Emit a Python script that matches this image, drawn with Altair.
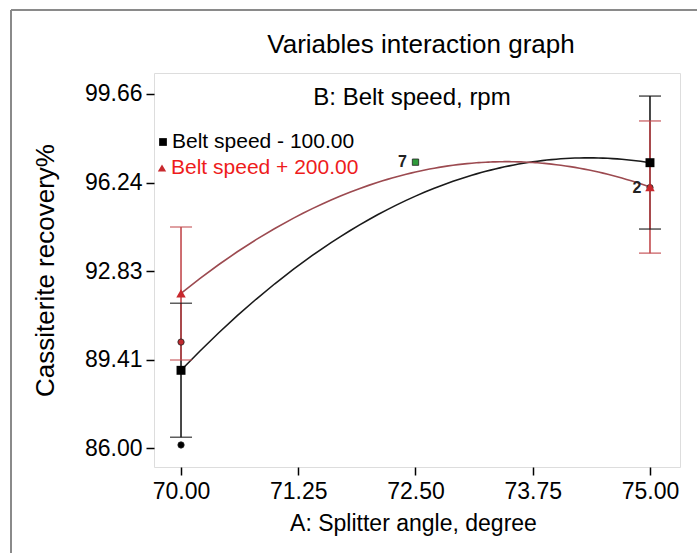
import altair as alt
import pandas as pd

# ---- data ----
series_names = ["Belt speed - 100.00", "Belt speed + 200.00"]
point_angle = [70.0, 75.0]
low_mean = [89.00, 97.01]
low_lo = [86.42, 94.45]
low_hi = [91.59, 99.58]
high_mean = [91.97, 96.07]
high_lo = [89.40, 93.52]
high_hi = [94.53, 98.62]

curve_angle = [70.0, 72.5, 75.0]
low_curve = [89.00, 95.72, 97.01]
high_curve = [91.97, 96.65, 96.07]

design_angle = [70.0, 70.0, 72.5, 75.0]
design_value = [86.12, 90.09, 97.03, 96.05]
design_kind = ["low", "high", "center", "high"]
design_label = ["", "", "7", "2"]

x_ticks = [70.0, 71.25, 72.5, 73.75, 75.0]
y_ticks = [86.00, 89.41, 92.83, 96.24, 99.66]

chart_title = "Variables interaction graph"
heading_text = "B: Belt speed, rpm"

FONT = "Liberation Sans"
BLACK = "#1a1a1a"
RED_CURVE = "#9c4a50"
RED_BAR = "#c24a4e"
RED_MARK = "#c8282d"
RED_TEXT = "#ee1c1c"

points = pd.DataFrame({
    "angle": point_angle * 2,
    "mean": low_mean + high_mean,
    "lo": low_lo + high_lo,
    "hi": low_hi + high_hi,
    "series": [series_names[0]] * 2 + [series_names[1]] * 2,
})
curves = pd.DataFrame({
    "angle": curve_angle * 2,
    "value": low_curve + high_curve,
    "series": [series_names[0]] * 3 + [series_names[1]] * 3,
})
design = pd.DataFrame({"angle": design_angle, "value": design_value,
                       "kind": design_kind, "label": design_label})

xs = alt.Scale(domain=[69.712, 75.32], nice=False, zero=False)
ys = alt.Scale(domain=[85.27, 100.47], nice=False, zero=False)

X = alt.X("angle:Q", scale=xs, title="A: Splitter angle, degree",
          axis=alt.Axis(values=x_ticks, format=".2f", grid=False, domain=False,
                        tickColor="black", tickSize=8, tickWidth=1.5,
                        labelFont=FONT, labelFontSize=23, labelColor="black",
                        labelPadding=5,
                        titleFont=FONT, titleFontSize=23, titleFontWeight="normal",
                        titleColor="black", titleX=259, titleY=63,
                        titleBaseline="alphabetic"))
Y_AX = alt.Axis(values=y_ticks, format=".2f", grid=False, domain=False,
                tickColor="black", tickSize=8, tickWidth=1.5,
                labelFont=FONT, labelFontSize=23, labelColor="black", labelPadding=4,
                titleFont=FONT, titleFontSize=26, titleFontWeight="normal",
                titleColor="black", titleAngle=-90, titleX=-101,
                titleBaseline="alphabetic")

series_color = alt.Color("series:N", scale=alt.Scale(domain=series_names,
                         range=[BLACK, RED_CURVE]), legend=None)

curve_layer = alt.Chart(curves).transform_regression(
    "angle", "value", method="poly", order=2, groupby=["series"], extent=[70, 75]
).mark_line(strokeWidth=1.6).encode(
    x=X, y=alt.Y("value:Q", scale=ys, title="Cassiterite recovery%", axis=Y_AX),
    color=series_color,
)

base_pts = alt.Chart(points)
black_pts = base_pts.transform_filter(alt.datum.series == series_names[0])
red_pts = base_pts.transform_filter(alt.datum.series == series_names[1])

def bars(src, color):
    rule = src.mark_rule(strokeWidth=1.6, color=color).encode(
        x="angle:Q", y=alt.Y("lo:Q", scale=ys), y2="hi:Q")
    cap_lo = src.mark_tick(orient="horizontal", size=22, thickness=1.6, color=color).encode(
        x="angle:Q", y=alt.Y("lo:Q", scale=ys))
    cap_hi = src.mark_tick(orient="horizontal", size=22, thickness=1.6, color=color).encode(
        x="angle:Q", y=alt.Y("hi:Q", scale=ys))
    return rule, cap_lo, cap_hi

b_rule, b_lo, b_hi = bars(black_pts, BLACK)
r_rule, r_lo, r_hi = bars(red_pts, RED_BAR)

black_sq = black_pts.mark_point(shape="square", filled=True, size=80, color="black",
                                opacity=1).encode(x="angle:Q", y=alt.Y("mean:Q", scale=ys))
red_tri = red_pts.mark_point(shape="triangle-up", filled=True, size=90, color=RED_MARK,
                             opacity=1).encode(x="angle:Q", y=alt.Y("mean:Q", scale=ys))

dbase = alt.Chart(design)
def design_layer(kind, shape, fill):
    return dbase.transform_filter(alt.datum.kind == kind).mark_point(
        shape=shape, filled=True, opacity=1, size=40, color=fill,
        stroke="#222", strokeWidth=0.8,
    ).encode(x="angle:Q", y=alt.Y("value:Q", scale=ys))

d_low = design_layer("low", "circle", "black")
d_high = design_layer("high", "circle", "#c0292e")
d_center = design_layer("center", "square", "#2e9a3a")

design_txt = dbase.mark_text(dx=-13, dy=0, fontSize=16, fontWeight="bold",
                             font=FONT, color="#222").encode(
    x="angle:Q", y=alt.Y("value:Q", scale=ys), text="label:N")

# chart title, in-plot heading and manual legend
ttl = pd.DataFrame({"t": [chart_title]})
title_mark = alt.Chart(ttl).mark_text(font=FONT, fontSize=26, color="black",
                                      align="center", baseline="alphabetic").encode(
    x=alt.value(267), y=alt.value(-20), text="t:N")
one = pd.DataFrame({"t": [heading_text]})
heading = alt.Chart(one).mark_text(font=FONT, fontSize=24, color="black",
                                   align="center", baseline="middle").encode(
    x=alt.value(258), y=alt.value(25), text="t:N")
leg1 = pd.DataFrame({"t": [series_names[0]]})
leg2 = pd.DataFrame({"t": [series_names[1]]})
leg_sq = alt.Chart(leg1).mark_point(shape="square", filled=True, size=60, color="black",
                                    opacity=1).encode(x=alt.value(9), y=alt.value(69))
leg_t1 = alt.Chart(leg1).mark_text(font=FONT, fontSize=21, color="black", align="left",
                                   baseline="middle").encode(
    x=alt.value(18), y=alt.value(69), text="t:N")
leg_tri = alt.Chart(leg2).mark_point(shape="triangle-up", filled=True, size=70,
                                     color=RED_MARK, opacity=1).encode(
    x=alt.value(8), y=alt.value(95))
leg_t2 = alt.Chart(leg2).mark_text(font=FONT, fontSize=21, color=RED_TEXT, align="left",
                                   baseline="middle").encode(
    x=alt.value(17), y=alt.value(95), text="t:N")

# outer picture border (top and left visible)
border_top = alt.Chart(one).mark_rule(color="#8a8a8a", strokeWidth=2).encode(
    x=alt.value(-143), x2=alt.value(560), y=alt.value(-63))
border_left = alt.Chart(one).mark_rule(color="#8a8a8a", strokeWidth=2).encode(
    x=alt.value(-143), y=alt.value(-63), y2=alt.value(500))

chart = alt.layer(
    curve_layer, b_rule, r_rule, b_lo, b_hi, r_lo, r_hi,
    d_low, d_high, d_center, black_sq, red_tri, design_txt,
    title_mark, heading, leg_sq, leg_t1, leg_tri, leg_t2, border_top, border_left,
).properties(
    width=526, height=394,
    autosize=alt.AutoSizeParams(type="none"),
    padding={"left": 154, "top": 73, "right": 17, "bottom": 86},
).configure_view(stroke="black", strokeWidth=1.5).configure(background="white")

chart.save("out.html", embed_options={"renderer": "svg", "actions": False})
